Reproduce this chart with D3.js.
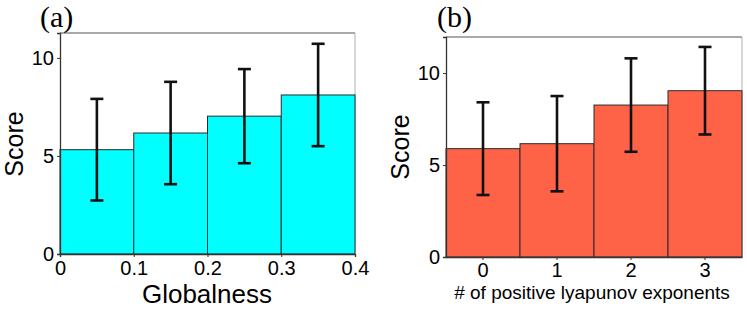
<!DOCTYPE html>
<html lang="en">
<head>
  <meta charset="UTF-8">
  <title>Score bars</title>
  <script src="https://d3js.org/d3.v7.min.js"></script>
  <style>
    body { margin: 0; background: white; }
    svg { display: block; font-family: "Liberation Sans", Arial, sans-serif; }
    .panel-label { font-family: "Liberation Serif", "Times New Roman", serif; }
  </style>
</head>
<body>
<svg id="chart" width="747" height="310"></svg>
<script>
  // panel (a): score by globalness bin
  const globalnessEdges = [0, 0.1, 0.2, 0.3, 0.4];
  const globalnessMean = [5.32, 6.17, 7.03, 8.11];
  const globalnessSd = [2.59, 2.61, 2.40, 2.61];

  // panel (b): score by number of positive lyapunov exponents
  const lyapunovCats = ["0", "1", "2", "3"];
  const lyapunovMean = [5.89, 6.16, 8.26, 9.04];
  const lyapunovSd = [2.52, 2.59, 2.54, 2.38];

  const scoreTicks = [0, 5, 10];

  const svg = d3.select("#chart");

  function frame(g, x0, x1, y0, y1) {
    // light top/right border, darker axes
    g.append("line").attr("x1", x0).attr("x2", x1).attr("y1", y0).attr("y2", y0)
      .attr("stroke", "#8c8c8c").attr("stroke-width", 1.3);
    g.append("line").attr("x1", x1).attr("x2", x1).attr("y1", y0).attr("y2", y1)
      .attr("stroke", "#b0b0b0").attr("stroke-width", 1);
  }

  function errorBars(g, data, cx, y) {
    const cap = 6.5;
    data.forEach(d => {
      const x = cx(d);
      const lo = y(d.mean - d.sd), hi = y(d.mean + d.sd);
      g.append("line").attr("x1", x).attr("x2", x).attr("y1", lo).attr("y2", hi);
      g.append("line").attr("x1", x - cap).attr("x2", x + cap).attr("y1", lo).attr("y2", lo);
      g.append("line").attr("x1", x - cap).attr("x2", x + cap).attr("y1", hi).attr("y2", hi);
    });
    g.attr("stroke", "#111").attr("stroke-width", 2.6);
  }

  function styleAxis(g) {
    g.select(".domain").attr("stroke", "#333").attr("stroke-width", 1.3);
    g.selectAll(".tick line").attr("stroke", "#333");
    g.selectAll(".tick text").attr("fill", "#000").style("font-size", "20px");
  }

  // ---------- panel (a) ----------
  {
    const x = d3.scaleLinear().domain([0, 0.4]).range([60, 355]);
    const y = d3.scaleLinear().domain([0, 11.27]).range([254, 33]);
    const data = globalnessMean.map((m, i) => ({
      x0: globalnessEdges[i], x1: globalnessEdges[i + 1], mean: m, sd: globalnessSd[i]
    }));
    const g = svg.append("g");
    frame(g, 60, 355, 33, 254);

    g.selectAll("rect.bar").data(data).join("rect")
      .attr("class", "bar")
      .attr("x", d => x(d.x0)).attr("width", d => x(d.x1) - x(d.x0))
      .attr("y", d => y(d.mean)).attr("height", d => y(0) - y(d.mean))
      .attr("fill", "#00ffff").attr("stroke", "#2b2b2b").attr("stroke-width", 1);

    errorBars(g.append("g"), data, d => x((d.x0 + d.x1) / 2), y);

    g.append("g").attr("transform", "translate(60,0)")
      .call(d3.axisLeft(y).tickValues(scoreTicks).tickSize(3).tickPadding(3))
      .call(styleAxis);
    g.append("g").attr("transform", "translate(0,254)")
      .call(d3.axisBottom(x).tickValues(globalnessEdges).tickSize(3).tickPadding(4)
        .tickFormat(d => d === 0 ? "0" : d3.format(".1f")(d)))
      .call(styleAxis);

    g.append("text").attr("x", 207).attr("y", 303).attr("text-anchor", "middle")
      .style("font-size", "26px").text("Globalness");
    g.append("text").attr("transform", "translate(23,144) rotate(-90)")
      .attr("text-anchor", "middle").style("font-size", "25px").text("Score");
    g.append("text").attr("class", "panel-label").attr("x", 40).attr("y", 27)
      .style("font-size", "30px").text("(a)");
  }

  // ---------- panel (b) ----------
  {
    const x = d3.scaleBand().domain(lyapunovCats).range([446, 742]).padding(0);
    const y = d3.scaleLinear().domain([0, 11.96]).range([257, 37]);
    const data = lyapunovMean.map((m, i) => ({ cat: lyapunovCats[i], mean: m, sd: lyapunovSd[i] }));
    const g = svg.append("g");
    frame(g, 446, 742, 37, 257);

    g.selectAll("rect.bar").data(data).join("rect")
      .attr("class", "bar")
      .attr("x", d => x(d.cat)).attr("width", x.bandwidth())
      .attr("y", d => y(d.mean)).attr("height", d => y(0) - y(d.mean))
      .attr("fill", "#ff6347").attr("stroke", "#2b2b2b").attr("stroke-width", 1);

    errorBars(g.append("g"), data, d => x(d.cat) + x.bandwidth() / 2, y);

    g.append("g").attr("transform", "translate(446,0)")
      .call(d3.axisLeft(y).tickValues(scoreTicks).tickSize(3).tickPadding(3))
      .call(styleAxis);
    g.append("g").attr("transform", "translate(0,257)")
      .call(d3.axisBottom(x).tickSize(3).tickPadding(3).tickSizeOuter(0))
      .call(styleAxis);

    g.append("text").attr("x", 592).attr("y", 299).attr("text-anchor", "middle")
      .style("font-size", "19px").text("# of positive lyapunov exponents");
    g.append("text").attr("transform", "translate(409,147) rotate(-90)")
      .attr("text-anchor", "middle").style("font-size", "25px").text("Score");
    g.append("text").attr("class", "panel-label").attr("x", 437).attr("y", 27)
      .style("font-size", "30px").text("(b)");
  }
</script>
</body>
</html>
